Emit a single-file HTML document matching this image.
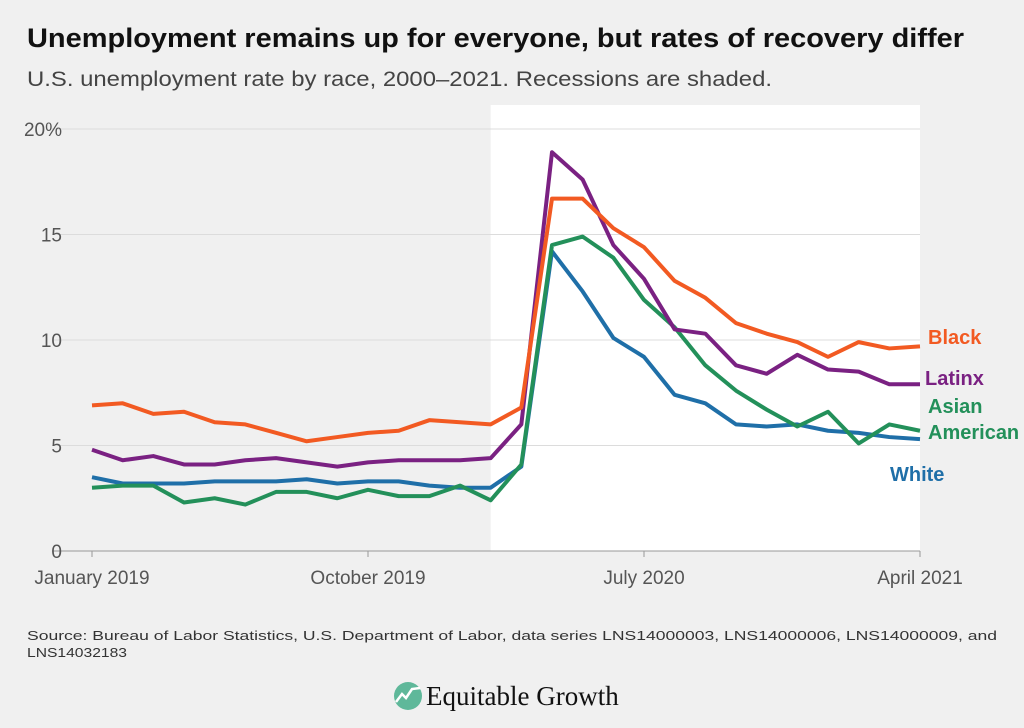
<!DOCTYPE html>
<html><head><meta charset="utf-8"><style>
body{margin:0;background:#f0f0f0;width:1024px;height:723px;overflow:hidden;font-family:"Liberation Sans",sans-serif}
svg text{font-family:"Liberation Sans",sans-serif}
</style></head><body>
<svg width="1024" height="723">
<rect width="1024" height="723" fill="#f0f0f0"/>
<text x="27" y="47" font-size="27" font-weight="bold" fill="#111" textLength="937" lengthAdjust="spacingAndGlyphs">Unemployment remains up for everyone, but rates of recovery differ</text>
<text x="27" y="86" font-size="21" fill="#444" textLength="745" lengthAdjust="spacingAndGlyphs">U.S. unemployment rate by race, 2000–2021. Recessions are shaded.</text>
<g id="plot"></g>
<text x="27" y="640" font-size="13" fill="#333" textLength="970" lengthAdjust="spacingAndGlyphs">Source: Bureau of Labor Statistics, U.S. Department of Labor, data series LNS14000003, LNS14000006, LNS14000009, and</text>
<text x="27" y="657" font-size="13" fill="#333" textLength="100" lengthAdjust="spacingAndGlyphs">LNS14032183</text>
<g>
<circle cx="408" cy="696" r="14" fill="#5fb89a"/>
<polyline points="396,702 402,694 406,698 412,689 420,688" fill="none" stroke="#fff" stroke-width="2.5"/>
<text x="426" y="705" font-size="27" style="font-family:'Liberation Serif',serif" fill="#111">Equitable Growth</text>
</g>
</svg>
<script>
const months=["January 2019","October 2019","July 2020","April 2021"];
const monthIdx=[0,9,18,27];
const yTicks=[0,5,10,15,20];
const black=[6.9,7.0,6.5,6.6,6.1,6.0,5.6,5.2,5.4,5.6,5.7,6.2,6.1,6.0,6.8,16.7,16.7,15.3,14.4,12.8,12.0,10.8,10.3,9.9,9.2,9.9,9.6,9.7];
const latinx=[4.8,4.3,4.5,4.1,4.1,4.3,4.4,4.2,4.0,4.2,4.3,4.3,4.3,4.4,6.0,18.9,17.6,14.5,12.9,10.5,10.3,8.8,8.4,9.3,8.6,8.5,7.9,7.9];
const white=[3.5,3.2,3.2,3.2,3.3,3.3,3.3,3.4,3.2,3.3,3.3,3.1,3.0,3.0,4.0,14.2,12.3,10.1,9.2,7.4,7.0,6.0,5.9,6.0,5.7,5.6,5.4,5.3];
const asian=[3.0,3.1,3.1,2.3,2.5,2.2,2.8,2.8,2.5,2.9,2.6,2.6,3.1,2.4,4.1,14.5,14.9,13.9,11.9,10.6,8.8,7.6,6.7,5.9,6.6,5.1,6.0,5.7];
const recessionStart=13;
const NS="http://www.w3.org/2000/svg";
const X=i=>92+i*(828/27);
const Y=v=>551-v*21.1;
const g=document.getElementById('plot');
function mk(t,a){const e=document.createElementNS(NS,t);for(const k in a)e.setAttribute(k,a[k]);g.appendChild(e);return e;}
let r=mk('rect',{x:X(recessionStart),y:105,width:X(27)-X(recessionStart),height:Y(0)-105,fill:'#fff'});


yTicks.forEach(v=>{
 let l=mk('line',{x1:52,x2:X(27),y1:Y(v),y2:Y(v),stroke:v===0?'#999':'#dcdcdc','stroke-width':1});
 
 
 let t=mk('text',{x:62,y:Y(v)+7,'font-size':19,fill:'#555','text-anchor':'end'});
 t.textContent=v===20?'20%':v;
 
 
});
monthIdx.forEach((m,k)=>{
 let l=mk('line',{x1:X(m),x2:X(m),y1:Y(0),y2:Y(0)+6,stroke:'#999'});
 
 
 let t=mk('text',{x:X(m),y:584,'font-size':19,fill:'#555','text-anchor':'middle'});
 t.textContent=months[k];
 
 
});
const series=[[white,'#1f6fa8','White',890,481],[asian,'#23905a','Asian',928,413],[latinx,'#7a2182','Latinx',925,385],[black,'#f25a22','Black',928,344]];
series.forEach(s=>{
 let p=mk('polyline',{points:s[0].map((v,i)=>X(i)+','+Y(v)).join(' '),fill:'none',stroke:s[1],'stroke-width':4,'stroke-linejoin':'round'});
 
 
 let t=mk('text',{x:s[3],y:s[4],'font-size':20,'font-weight':'bold',fill:s[1],'text-anchor':'start'});
 t.textContent=s[2];
 
 
});
let t2=mk('text',{x:928,y:439,'font-size':20,'font-weight':'bold',fill:'#23905a','text-anchor':'start'});
t2.textContent='American';


</script>
</body></html>
